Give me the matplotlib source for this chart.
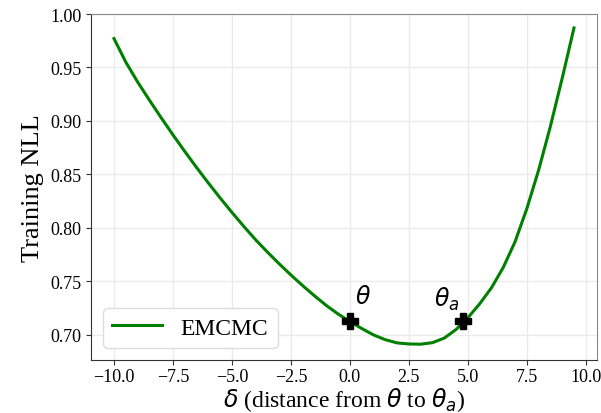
import numpy as np
import matplotlib
matplotlib.use("Agg")
import matplotlib.pyplot as plt

plt.rcParams['font.family'] = ['Liberation Serif', 'DejaVu Serif']
plt.rcParams['mathtext.fontset'] = 'dejavusans'

# distance from theta along the line, and training NLL
delta = [-10.0, -9.5, -9.0, -8.5, -8.0, -7.5, -7.0, -6.5, -6.0, -5.5,
         -5.0, -4.5, -4.0, -3.5, -3.0, -2.5, -2.0, -1.5, -1.0, -0.5,
         0.0, 0.5, 1.0, 1.5, 2.0, 2.5, 3.0, 3.5, 4.0, 4.5,
         5.0, 5.5, 6.0, 6.5, 7.0, 7.5, 8.0, 8.5, 9.0, 9.5]
nll = [0.977, 0.955, 0.9365, 0.9195, 0.903, 0.887, 0.8715, 0.8565, 0.842, 0.828,
       0.8145, 0.8015, 0.789, 0.7775, 0.7665, 0.756, 0.746, 0.7365, 0.7275, 0.7195,
       0.7125, 0.706, 0.700, 0.6955, 0.6925, 0.6915, 0.6913, 0.6927, 0.697, 0.705,
       0.716, 0.729, 0.744, 0.763, 0.787, 0.818, 0.854, 0.895, 0.940, 0.987]

marker_x = [0.0, 4.8]
marker_y = [0.713, 0.713]
marker_labels = [r'$\theta$', r'$\theta_a$']
label_pos = [(0.55, 0.736), (4.1, 0.734)]

fig = plt.figure(figsize=(6.01, 4.14), dpi=100)
ax = fig.add_axes([91 / 601, 53 / 414, 506 / 601, 346 / 414])

ax.plot(delta, nll, color='green', lw=2.2, label='EMCMC', zorder=3)
ax.plot(marker_x, marker_y, 'P', color='black', markersize=12, zorder=4)
for (tx, ty), lab in zip(label_pos, marker_labels):
    ax.text(tx, ty, lab, fontsize=17, ha='center', va='center')

ax.set_ylim(top=1.0)
ax.set_xticks(np.arange(-10, 10.1, 2.5))
ax.grid(True, color='#ebebeb', lw=1)
ax.set_axisbelow(True)
ax.tick_params(labelsize=13, color='#333333')
ax.tick_params(axis='x', pad=2.5)
for s in ['left', 'bottom']:
    ax.spines[s].set_color('#333333')
for s in ['top', 'right']:
    ax.spines[s].set_color('#888888')

ax.set_ylabel('Training NLL', fontsize=19)
ax.set_xlabel(r'$\delta$ (distance from $\theta$ to $\theta_a$)', fontsize=17, labelpad=0)
ax.legend(loc='lower left', fontsize=17, handlelength=2.1, framealpha=1,
          edgecolor='#dddddd')

fig.savefig('out.png', dpi=100)
